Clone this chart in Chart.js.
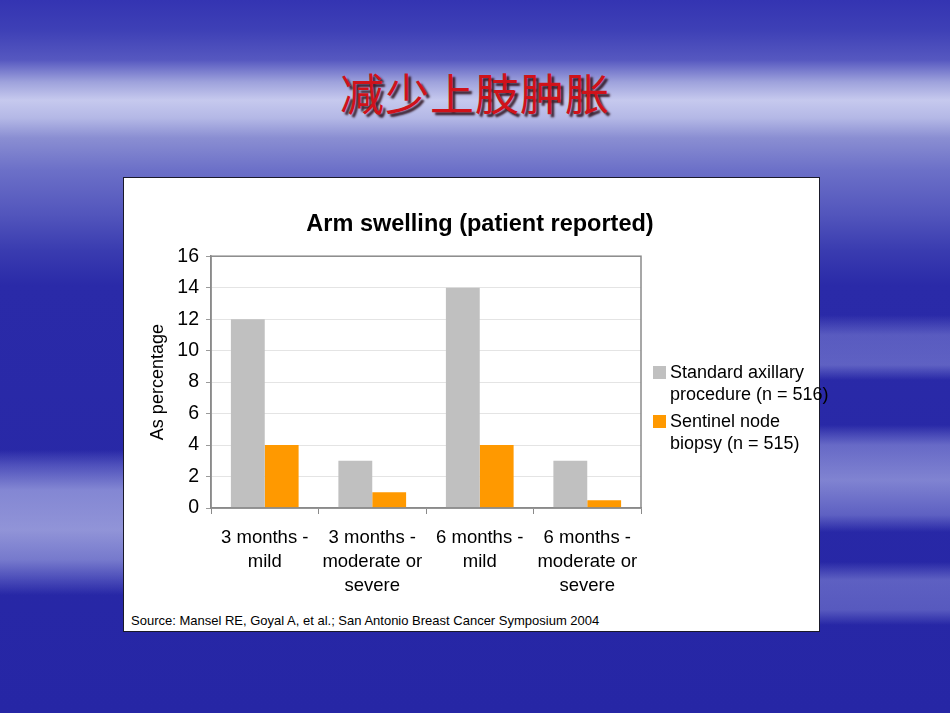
<!DOCTYPE html>
<html>
<head>
<meta charset="utf-8">
<script src="https://cdn.jsdelivr.net/npm/chart.js@4.4.1/dist/chart.umd.min.js"></script>
<style>
  html, body { margin:0; padding:0; width:950px; height:713px; overflow:hidden; }
  body {
    position:relative;
    background:
      linear-gradient(to bottom,
        #3434b2 0px, #3e40b6 30px, #5658c0 60px, #9ea2dc 82px, #c6c9ee 100px, #b4b8e6 118px,
        #8a8ed2 138px, #6c70c8 170px, #5255bc 215px, #3a3cb0 250px, #2a2aa8 285px, #2626a5 713px);
    font-family: "Liberation Sans", Arial, sans-serif;
  }
  .strip { position:absolute; }
  #leftStrip {
    left:0; top:240px; width:123px; height:473px;
    background:
      linear-gradient(to bottom,
        rgba(150,155,225,0) 0px, rgba(150,155,225,0) 210px, rgba(150,155,225,0.35) 225px,
        rgba(170,175,230,0.7) 250px, rgba(180,184,232,0.75) 290px, rgba(160,165,225,0.65) 320px,
        rgba(150,155,225,0.3) 340px, rgba(150,155,225,0) 355px, rgba(150,155,225,0) 473px);
  }
  #rightStrip {
    left:820px; top:240px; width:130px; height:473px;
    background:
      linear-gradient(to bottom,
        rgba(150,155,225,0) 0px, rgba(150,155,225,0) 75px, rgba(160,165,228,0.4) 95px,
        rgba(160,165,228,0.45) 125px, rgba(150,155,225,0) 140px, rgba(150,155,225,0) 185px,
        rgba(165,170,230,0.5) 205px, rgba(175,180,232,0.65) 240px, rgba(160,165,228,0.45) 275px,
        rgba(150,155,225,0) 292px, rgba(150,155,225,0) 322px, rgba(160,165,228,0.45) 340px,
        rgba(160,165,228,0.4) 370px, rgba(150,155,225,0) 385px);
  }
  #cnTitle {
    position:absolute; left:0; top:62px; width:950px; text-align:center;
    font-family:"Noto Sans CJK SC", sans-serif; font-size:44px; line-height:60px;
    color:#d0121a; letter-spacing:1px;
    text-shadow: 3px 3px 2px rgba(40,10,20,0.85);
    margin:0; font-weight:400;
  }
  #box {
    position:absolute; left:123px; top:177px; width:697px; height:455px;
    box-sizing:border-box; border:1px solid #1a1a2a; background:#fff;
  }
  #source {
    position:absolute; left:131px; top:613px; font-size:13px; color:#000;
    font-family:"Liberation Sans", Arial, sans-serif; white-space:nowrap;
  }
  #c { position:absolute; left:0; top:0; }
</style>
</head>
<body>
<div class="strip" id="leftStrip"></div>
<div class="strip" id="rightStrip"></div>
<h1 id="cnTitle">减少上肢肿胀</h1>
<div id="box"></div>
<div id="source">Source: Mansel RE, Goyal A, et al.; San Antonio Breast Cancer Symposium 2004</div>
<canvas id="c" width="950" height="713"></canvas>
<script>
const chartTitle = "Arm swelling (patient reported)";
const yAxisTitle = "As percentage";
const categories = [
  ["3 months -", "mild"],
  ["3 months -", "moderate or", "severe"],
  ["6 months -", "mild"],
  ["6 months -", "moderate or", "severe"]
];
const seriesNames = ["Standard axillary procedure (n = 516)", "Sentinel node biopsy (n = 515)"];
const legendLines = [["Standard axillary", "procedure (n = 516)"], ["Sentinel node", "biopsy (n = 515)"]];
const standardValues = [12, 3, 14, 3];
const sentinelValues = [4, 1, 4, 0.5];
const yTicks = [0, 2, 4, 6, 8, 10, 12, 14, 16];
const seriesColors = ["#c0c0c0", "#ff9900"];

Chart.defaults.font.family = '"Liberation Sans", Arial, sans-serif';
Chart.defaults.color = '#000';

const frameAndLegend = {
  id: 'frameAndLegend',
  afterDatasetsDraw(chart) {
    const ctx = chart.ctx, a = chart.chartArea;
    ctx.save();
    ctx.strokeStyle = '#8a8a8a';
    ctx.lineWidth = 1.5;
    ctx.strokeRect(a.left, a.top, a.right - a.left, a.bottom - a.top);
    ctx.restore();
  },
  afterDraw(chart) {
    const ctx = chart.ctx, a = chart.chartArea;
    ctx.save();
    ctx.font = '18px "Liberation Sans", Arial, sans-serif';
    ctx.textBaseline = 'middle';
    ctx.textAlign = 'left';
    const x0 = a.right + 12;
    let y = 373;
    chart.data.datasets.forEach((ds, i) => {
      ctx.fillStyle = ds.backgroundColor;
      ctx.fillRect(x0, y - 7, 13, 13);
      ctx.fillStyle = '#000';
      legendLines[i].forEach((line, j) => {
        ctx.fillText(line, x0 + 17, y + j * 22);
      });
      y += 49;
    });
    ctx.restore();
  }
};

new Chart(document.getElementById('c'), {
  type: 'bar',
  data: {
    labels: categories,
    datasets: [
      { label: seriesNames[0], data: standardValues, backgroundColor: seriesColors[0] },
      { label: seriesNames[1], data: sentinelValues, backgroundColor: seriesColors[1] }
    ]
  },
  options: {
    responsive: false,
    animation: false,
    devicePixelRatio: 1,
    layout: { padding: { left: 130, right: 120, top: 200, bottom: 105 } },
    datasets: { bar: { categoryPercentage: 0.63, barPercentage: 1.0 } },
    plugins: {
      legend: { display: false },
      tooltip: { enabled: false },
      title: {
        display: true, text: chartTitle, color: '#000',
        font: { size: 23.5, weight: 'bold' },
        padding: { top: 10, bottom: 18 }
      }
    },
    scales: {
      x: {
        grid: { display: true, drawOnChartArea: false, drawTicks: true, tickLength: 6, color: '#8a8a8a', offset: true },
        border: { display: true, color: '#8a8a8a', width: 1.5 },
        ticks: { font: { size: 18.5, lineHeight: '24px' }, padding: 12, maxRotation: 0, autoSkip: false, color: '#000' },
        afterFit(s) { s.height = 100; }
      },
      y: {
        min: 0, max: 16,
        afterBuildTicks(s) { s.ticks = yTicks.map(v => ({ value: v })); },
        grid: { color: '#e4e4e4', drawTicks: true, tickLength: 5, tickColor: '#9a9a9a' },
        border: { display: true, color: '#8a8a8a', width: 1.5 },
        ticks: { font: { size: 19.5 }, padding: 7, color: '#000' },
        title: { display: true, text: yAxisTitle, font: { size: 18 }, padding: { top: 17, bottom: 0 }, color: '#000' },
        afterFit(s) { s.width = 81; }
      },
      yR: {
        position: 'right', display: true,
        grid: { display: false }, border: { display: false },
        ticks: { display: false },
        afterFit(s) { s.width = 189; }
      }
    }
  },
  plugins: [frameAndLegend]
});
</script>
</body>
</html>
